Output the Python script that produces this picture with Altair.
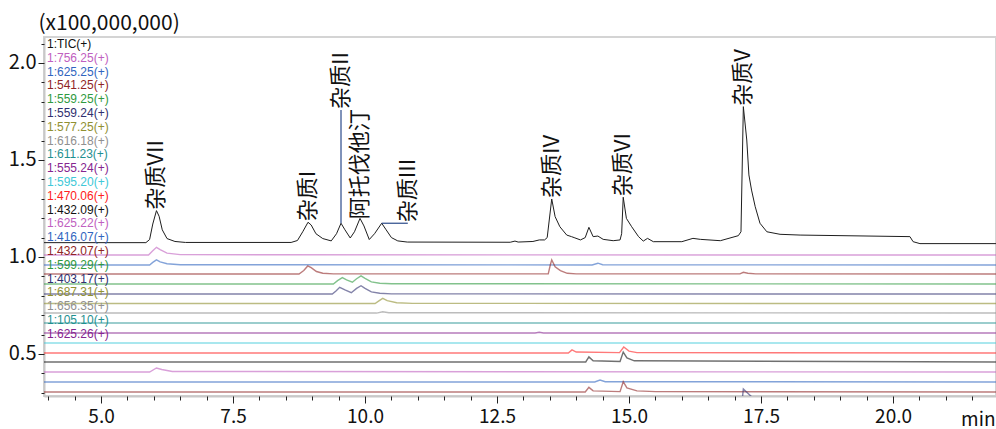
import altair as alt
import pandas as pd

names = ["1:TIC(+)", "1:756.25(+)", "1:625.25(+)", "1:541.25(+)", "1:559.25(+)", "1:559.24(+)",
         "1:577.25(+)", "1:616.18(+)", "1:611.23(+)", "1:555.24(+)", "1:595.20(+)", "1:470.06(+)",
         "1:432.09(+)", "1:625.22(+)", "1:416.07(+)", "1:432.07(+)", "1:599.29(+)", "1:403.17(+)",
         "1:687.31(+)", "1:656.35(+)", "1:105.10(+)", "1:625.26(+)"]
colors = ["#111111", "#c060c0", "#3065c0", "#902525", "#2f9a40", "#30306f",
          "#909030", "#909090", "#1f9090", "#852590", "#40c8d8", "#ff2020",
          "#111111", "#c060c0", "#3065c0", "#902525", "#2f9a40", "#30306f",
          "#909030", "#909090", "#1f9090", "#852590"]

tic = [(3.92, 1.074), (5.85, 1.074), (5.92, 1.090), (5.98, 1.170), (6.05, 1.239), (6.10, 1.210),
       (6.16, 1.140), (6.25, 1.095), (6.40, 1.080), (6.60, 1.075), (8.60, 1.075), (8.72, 1.085),
       (8.82, 1.130), (8.92, 1.179), (8.98, 1.165), (9.07, 1.120), (9.20, 1.095), (9.36, 1.083),
       (9.46, 1.120), (9.545, 1.174), (9.62, 1.140), (9.72, 1.098), (9.80, 1.130), (9.905, 1.199),
       (9.98, 1.160), (10.08, 1.090), (10.18, 1.120), (10.316, 1.174), (10.40, 1.140), (10.50, 1.100),
       (10.62, 1.083), (10.80, 1.077), (12.75, 1.076), (12.84, 1.082), (12.90, 1.077), (13.18, 1.080),
       (13.30, 1.088), (13.40, 1.088), (13.45, 1.100), (13.536, 1.299), (13.60, 1.208), (13.69, 1.156),
       (13.82, 1.113), (13.91, 1.105), (13.96, 1.100), (14.08, 1.088), (14.17, 1.100), (14.24, 1.153),
       (14.32, 1.105), (14.41, 1.108), (14.51, 1.091), (14.70, 1.084), (14.83, 1.088), (14.86, 1.120),
       (14.89, 1.308), (14.95, 1.199), (15.05, 1.156), (15.18, 1.105), (15.27, 1.082), (15.35, 1.096),
       (15.46, 1.079), (16.00, 1.079), (16.21, 1.096), (16.35, 1.091), (16.73, 1.084), (17.07, 1.110),
       (17.12, 1.130), (17.165, 1.775), (17.23, 1.603), (17.27, 1.423), (17.32, 1.345), (17.39, 1.259),
       (17.48, 1.174), (17.61, 1.130), (17.86, 1.117), (18.24, 1.113), (20.32, 1.105), (20.38, 1.079),
       (20.51, 1.069), (21.95, 1.069)]

ion_traces = {
    "1:756.25(+)": [(3.92, 1.010), (5.90, 1.010), (5.97, 1.030), (6.05, 1.050), (6.12, 1.038), (6.25, 1.020), (6.50, 1.012), (21.95, 1.010)],
    "1:625.25(+)": [(3.92, 0.959), (5.92, 0.959), (5.98, 0.972), (6.05, 0.985), (6.12, 0.975), (6.25, 0.965), (6.50, 0.960), (14.30, 0.959), (14.41, 0.968), (14.50, 0.960), (21.95, 0.959)],
    "1:541.25(+)": [(3.92, 0.912), (8.75, 0.912), (8.84, 0.930), (8.915, 0.954), (8.98, 0.945), (9.08, 0.925), (9.20, 0.916), (9.40, 0.913), (13.47, 0.913), (13.51, 0.960), (13.536, 0.985), (13.60, 0.950), (13.70, 0.930), (13.83, 0.916), (14.00, 0.913), (17.10, 0.913), (17.165, 0.921), (17.25, 0.916), (17.40, 0.913), (21.95, 0.912)],
    "1:559.25(+)": [(3.92, 0.861), (9.40, 0.861), (9.48, 0.878), (9.57, 0.894), (9.65, 0.882), (9.76, 0.870), (9.84, 0.888), (9.924, 0.903), (10.00, 0.890), (10.12, 0.872), (10.28, 0.865), (10.50, 0.862), (21.95, 0.861)],
    "1:559.24(+)": [(3.92, 0.809), (9.38, 0.809), (9.45, 0.825), (9.52, 0.844), (9.62, 0.830), (9.74, 0.816), (9.84, 0.838), (9.924, 0.852), (10.00, 0.838), (10.12, 0.820), (10.28, 0.813), (10.50, 0.810), (21.95, 0.809)],
    "1:577.25(+)": [(3.92, 0.760), (10.19, 0.760), (10.27, 0.775), (10.335, 0.787), (10.42, 0.775), (10.60, 0.764), (10.90, 0.761), (21.95, 0.760)],
    "1:616.18(+)": [(3.92, 0.711), (10.22, 0.711), (10.335, 0.718), (10.45, 0.713), (21.95, 0.711)],
    "1:611.23(+)": [(3.92, 0.660), (21.95, 0.660)],
    "1:555.24(+)": [(3.92, 0.608), (13.22, 0.608), (13.30, 0.612), (13.38, 0.608), (21.95, 0.608)],
    "1:595.20(+)": [(3.92, 0.557), (21.95, 0.557)],
    "1:470.06(+)": [(3.92, 0.505), (13.85, 0.505), (13.92, 0.521), (14.00, 0.510), (14.82, 0.507), (14.90, 0.536), (15.00, 0.515), (15.15, 0.507), (21.95, 0.505)],
    "1:432.09(+)": [(3.92, 0.459), (14.18, 0.459), (14.24, 0.485), (14.32, 0.465), (14.83, 0.461), (14.89, 0.510), (14.96, 0.480), (15.10, 0.465), (21.95, 0.459)],
    "1:625.22(+)": [(3.92, 0.407), (5.92, 0.407), (6.05, 0.428), (6.15, 0.420), (6.35, 0.410), (21.95, 0.407)],
    "1:416.07(+)": [(3.92, 0.356), (14.35, 0.356), (14.45, 0.366), (14.55, 0.357), (21.95, 0.356)],
    "1:432.07(+)": [(3.92, 0.304), (14.17, 0.304), (14.24, 0.328), (14.32, 0.310), (14.83, 0.306), (14.89, 0.357), (14.96, 0.325), (15.15, 0.310), (15.50, 0.306), (21.95, 0.304)],
    "1:599.29(+)": [(3.92, 0.253), (21.95, 0.253)],
    "1:403.17(+)": [(3.92, 0.202), (17.12, 0.202), (17.165, 0.320), (17.22, 0.305), (17.32, 0.280), (17.50, 0.230), (17.70, 0.210), (21.95, 0.202)],
    "1:687.31(+)": [(3.92, 0.151), (21.95, 0.151)],
    "1:656.35(+)": [(3.92, 0.100), (21.95, 0.100)],
    "1:105.10(+)": [(3.92, 0.049), (21.95, 0.049)],
    "1:625.26(+)": [(3.92, 0.000), (21.95, 0.000)],
}

ann_labels = ["杂质VII", "杂质I", "杂质II", "阿托伐他汀", "杂质III", "杂质IV", "杂质VI", "杂质V"]
ann_t = [6.05, 8.92, 9.545, 9.905, 10.81, 13.536, 14.89, 17.165]
ann_v = [1.239, 1.179, 1.758, 1.190, 1.174, 1.299, 1.308, 1.775]

leader_t = [9.545, 10.316]
leader_t2 = [9.545, 10.81]
leader_v = [1.174, 1.174]
leader_v2 = [1.758, 1.174]

x_major = [5.0, 7.5, 10.0, 12.5, 15.0, 17.5, 20.0]
x_minor = [4.0, 4.5, 5.0, 5.5, 6.0, 6.5, 7.0, 7.5, 8.0, 8.5, 9.0, 9.5, 10.0, 10.5, 11.0, 11.5,
           12.0, 12.5, 13.0, 13.5, 14.0, 14.5, 15.0, 15.5, 16.0, 16.5, 17.0, 17.5, 18.0, 18.5,
           19.0, 19.5, 20.0, 20.5, 21.0, 21.5]
y_major = [0.5, 1.0, 1.5, 2.0]
y_minor = [0.3, 0.4, 0.5, 0.6, 0.7, 0.8, 0.9, 1.0, 1.1, 1.2, 1.3, 1.4, 1.5, 1.6, 1.7, 1.8,
           1.9, 2.0, 2.1]

# ---- tables ----
tic_df = pd.DataFrame(tic, columns=["t", "v"])
rows = []
for nm, pts in ion_traces.items():
    for t, v in pts:
        rows.append({"trace": nm, "t": t, "v": v})
ion_df = pd.DataFrame(rows)
ann_df = pd.DataFrame({"label": ann_labels, "t": ann_t, "v": ann_v})
lead_df = pd.DataFrame({"t": leader_t, "t2": leader_t2, "v": leader_v, "v2": leader_v2})

FONT = "Noto Sans CJK SC"
TICK = "#222222"
DOMAIN = "#c8c8c8"

xs = alt.Scale(domain=[3.92, 21.95], nice=False, zero=False)
ys = alt.Scale(domain=[0.2835, 2.134], nice=False, zero=False)

x_axis = alt.Axis(
    orient="bottom", values=x_major, format=".1f", tickSize=7,
    tickColor=TICK, domainColor=DOMAIN, domainWidth=2, grid=False,
    labelOverlap=False, labelFlush=False,
    labelFont=FONT, labelFontSize=19, labelColor="#111111", labelPadding=4,
    title="min", titleFont=FONT, titleFontSize=19, titleFontWeight="normal", titleColor="#111111",
    titleAnchor="end", titleAlign="right", titleX=951, titleY=14, titleBaseline="top",
)
x_axis_minor = alt.Axis(
    orient="bottom", values=x_minor, tickSize=4, tickColor=TICK, labels=False,
    domain=False, grid=False, title="",
)
y_axis = alt.Axis(
    orient="left", values=y_major, format=".1f", tickSize=6,
    tickColor=TICK, domainColor=DOMAIN, domainWidth=2, grid=False,
    labelOverlap=False, labelFlush=False,
    labelFont=FONT, labelFontSize=20, labelColor="#111111", labelPadding=2,
    title="(x100,000,000)", titleFont=FONT, titleFontSize=21, titleFontWeight="normal",
    titleColor="#111111", titleAngle=0, titleAlign="left", titleBaseline="middle",
    titleX=-6, titleY=-14,
)
y_axis_minor = alt.Axis(
    orient="left", values=y_minor, tickSize=3, tickColor=TICK, labels=False,
    domain=False, grid=False, title="",
)

legend = alt.Legend(
    title=None, orient="none", legendX=-9, legendY=1, padding=0,
    symbolSize=0, symbolOpacity=0, symbolStrokeWidth=0, labelOffset=0,
    labelFont="Liberation Sans", labelFontSize=12, rowPadding=1.8, symbolLimit=50,
    labelColor=alt.ExprRef("scale('color', datum.value)"),
)

ions = alt.Chart(ion_df).mark_line(clip=True, strokeWidth=1.4, opacity=0.6).encode(
    x=alt.X("t:Q", scale=xs, axis=x_axis),
    y=alt.Y("v:Q", scale=ys, axis=y_axis),
    color=alt.Color("trace:N", scale=alt.Scale(domain=names, range=colors), legend=legend),
    order="t:Q",
)
tic_line = alt.Chart(tic_df).mark_line(clip=True, strokeWidth=1, color="#1e1e1e").encode(
    x=alt.X("t:Q", scale=xs, axis=x_axis_minor),
    y=alt.Y("v:Q", scale=ys, axis=y_axis_minor),
    order="t:Q",
)
leaders = alt.Chart(lead_df).mark_rule(color="#2a4a8a", strokeWidth=1.2).encode(
    x=alt.X("t:Q", axis=None), x2="t2:Q", y=alt.Y("v:Q", axis=None), y2="v2:Q",
)
texts = alt.Chart(ann_df).mark_text(
    angle=270, align="left", baseline="middle", dx=1, font=FONT, fontSize=22, color="#111111",
).encode(x=alt.X("t:Q", axis=None), y=alt.Y("v:Q", axis=None), text="label:N")

chart = alt.layer(ions, tic_line, leaders, texts).resolve_axis(
    x="independent", y="independent"
).properties(
    width=952, height=359,
    autosize=alt.AutoSizeParams(type="none"),
    padding={"left": 44, "top": 37, "right": 0, "bottom": 33},
    background="white",
).configure_view(stroke="#d4d4d4", strokeWidth=2)

chart.save("out.html", embed_options={"renderer": "svg", "actions": False})
